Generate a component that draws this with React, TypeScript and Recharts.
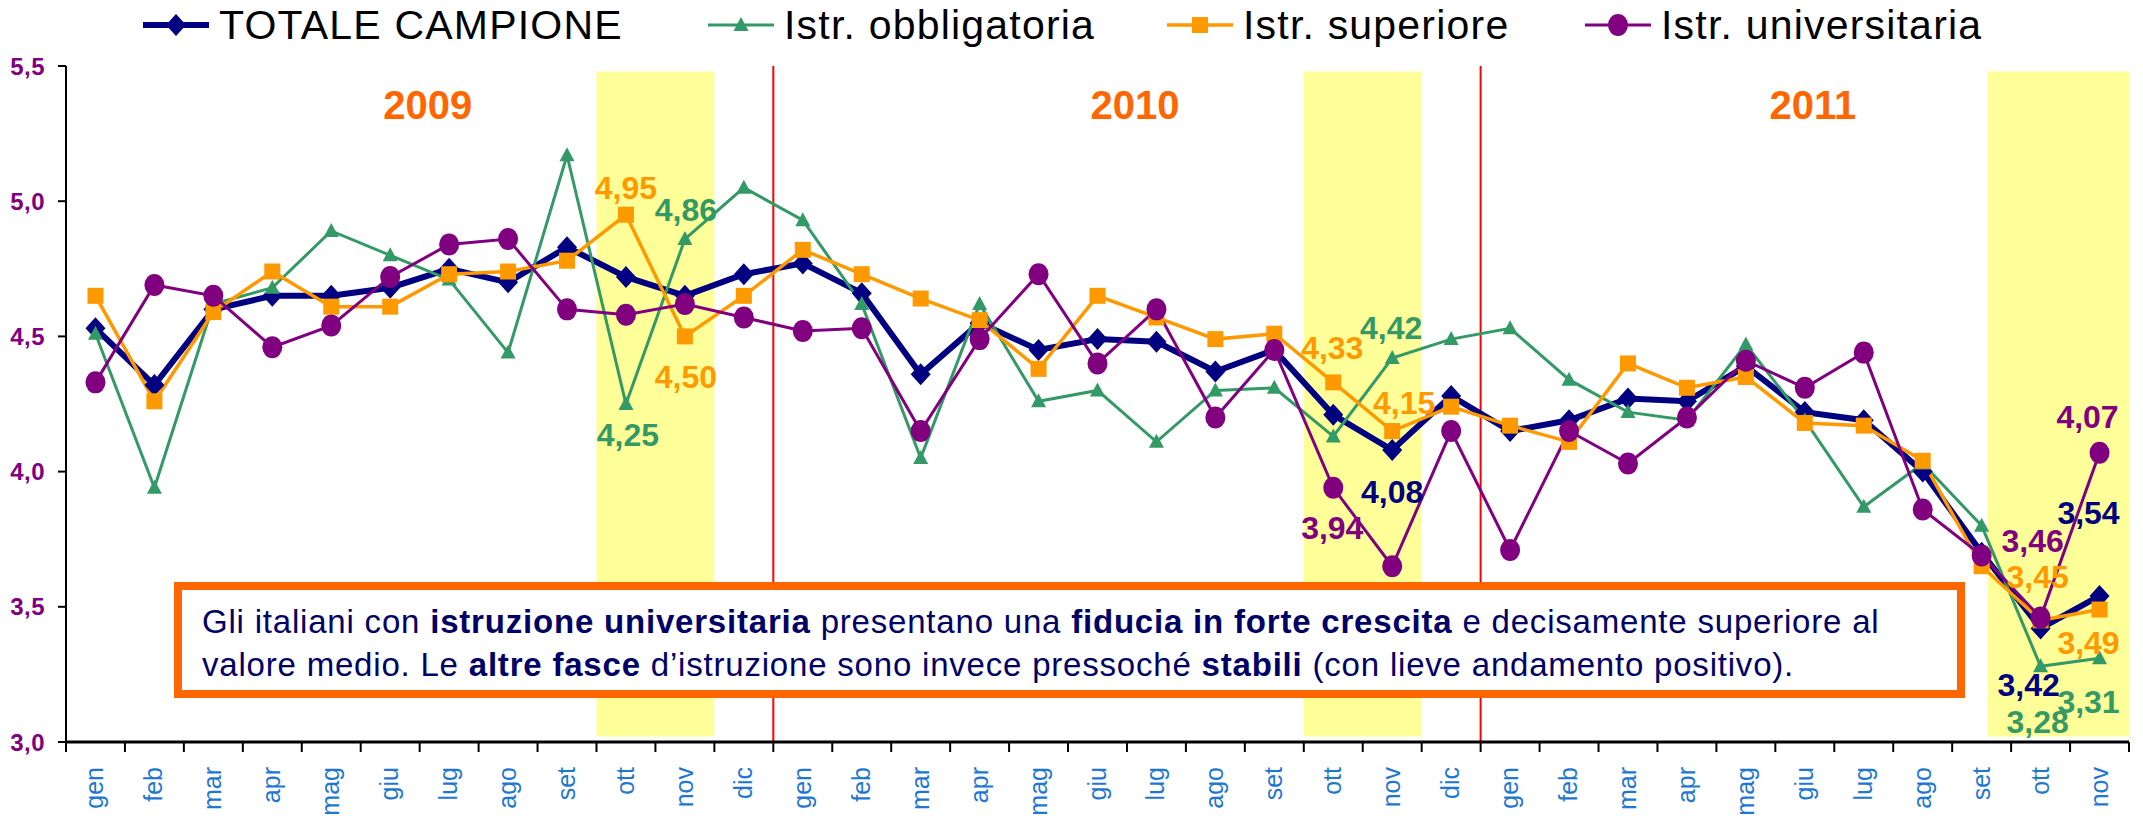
import {
  LabelList,
  Line,
  LineChart,
  ReferenceArea,
  ReferenceLine,
  XAxis,
  YAxis,
} from "recharts";

const MONTHS = ["gen", "feb", "mar", "apr", "mag", "giu", "lug", "ago", "set", "ott", "nov", "dic"];
const YEARS = ["2009", "2010", "2011"];

// one key per month, Jan 2009 .. Nov 2011
const periods = YEARS.flatMap((y) => MONTHS.map((m) => `${m}-${y}`)).slice(0, 35);

const totale = [
  4.53, 4.32, 4.6, 4.65, 4.65, 4.68, 4.75, 4.7, 4.83, 4.72, 4.65, 4.73,
  4.77, 4.66, 4.36, 4.55, 4.45, 4.49, 4.48, 4.37, 4.45, 4.21, 4.08, 4.28,
  4.15, 4.19, 4.27, 4.26, 4.39, 4.22, 4.19, 4.0, 3.7, 3.42, 3.54,
];
const obbligatoria = [
  4.51, 3.94, 4.62, 4.68, 4.89, 4.8, 4.71, 4.44, 5.17, 4.25, 4.86, 5.05,
  4.93, 4.62, 4.05, 4.62, 4.26, 4.3, 4.11, 4.3, 4.31, 4.13, 4.42, 4.49,
  4.53, 4.34, 4.22, 4.19, 4.47, 4.19, 3.87, 4.03, 3.8, 3.28, 3.31,
];
const superiore = [
  4.65, 4.26, 4.59, 4.74, 4.61, 4.61, 4.73, 4.74, 4.78, 4.95, 4.5, 4.65,
  4.82, 4.73, 4.64, 4.56, 4.38, 4.65, 4.57, 4.49, 4.51, 4.33, 4.15, 4.24,
  4.17, 4.11, 4.4, 4.31, 4.35, 4.18, 4.17, 4.04, 3.65, 3.45, 3.49,
];
const universitaria = [
  4.33, 4.69, 4.65, 4.46, 4.54, 4.72, 4.84, 4.86, 4.6, 4.58, 4.62, 4.57,
  4.52, 4.53, 4.15, 4.49, 4.73, 4.4, 4.6, 4.2, 4.45, 3.94, 3.65, 4.15,
  3.71, 4.15, 4.03, 4.2, 4.41, 4.31, 4.44, 3.86, 3.69, 3.46, 4.07,
];

const yTicks = [3, 3.5, 4, 4.5, 5, 5.5];

const data = periods.map((period, i) => ({
  period,
  totale: totale[i],
  obbligatoria: obbligatoria[i],
  superiore: superiore[i],
  universitaria: universitaria[i],
}));

const W = 2143;
const H = 819;
const M = { top: 66, right: 14, bottom: 7, left: 0 };
const Y_W = 66;
const PLOT_W = W - M.left - M.right - Y_W;
const STEP = PLOT_W / periods.length;

const NAVY = "#000080";
const GREEN = "#339966";
const ORANGE = "#FF9900";
const PURPLE = "#800080";
const FONT = "'Liberation Sans', Arial, sans-serif";

// which points carry a value label, and where it sits relative to the point
const labelPos: Record<string, Record<number, [number, number]>> = {
  totale: { 22: [0, 42], 33: [-12, 57], 34: [-11, -83] },
  obbligatoria: { 9: [2, 31], 10: [1, -29], 22: [-1, -30], 33: [-3, 56], 34: [-11, 44] },
  superiore: { 9: [0, -27], 10: [1, 41], 21: [-1, -34], 22: [12, -28], 33: [-3, -43], 34: [-11, 33] },
  universitaria: { 21: [-1, 40], 33: [-8, -77], 34: [-12, -36] },
};

const fmt = (v: number, d = 2) => v.toFixed(d).replace(".", ",");

const makeLabel = (key: string, color: string) => (p: any) => {
  const off = labelPos[key][p.index];
  if (!off) return null;
  return (
    <text
      x={p.x + off[0]}
      y={p.y + off[1]}
      textAnchor="middle"
      dominantBaseline="central"
      fill={color}
      fontSize={32}
      fontWeight="bold"
      fontFamily={FONT}
    >
      {fmt(Number(p.value))}
    </text>
  );
};

const diamond = (p: any) => (
  <path
    key={`d-${p.index}`}
    d={`M${p.cx},${p.cy - 11}L${p.cx + 10},${p.cy}L${p.cx},${p.cy + 11}L${p.cx - 10},${p.cy}Z`}
    fill={NAVY}
  />
);
const triangle = (p: any) => (
  <path
    key={`t-${p.index}`}
    d={`M${p.cx},${p.cy - 8}L${p.cx + 7.5},${p.cy + 6}L${p.cx - 7.5},${p.cy + 6}Z`}
    fill={GREEN}
  />
);
const square = (p: any) => (
  <rect key={`s-${p.index}`} x={p.cx - 8} y={p.cy - 8} width={16} height={16} fill={ORANGE} />
);
const circle = (p: any) => (
  <ellipse key={`c-${p.index}`} cx={p.cx} cy={p.cy} rx={10} ry={11} fill={PURPLE} />
);

const MonthTick = (p: any) => {
  const idx = p.index;
  const month = String(p.payload.value).split("-")[0];
  const left = p.x - STEP / 2;
  return (
    <g>
      <line x1={left} x2={left} y1={p.y} y2={p.y + 10} stroke="#000" strokeWidth={2} />
      {idx === periods.length - 1 && (
        <line x1={p.x + STEP / 2} x2={p.x + STEP / 2} y1={p.y} y2={p.y + 10} stroke="#000" strokeWidth={2} />
      )}
      <text
        transform={`translate(${p.x + 8},${p.y + 25}) rotate(-90)`}
        textAnchor="end"
        fill="#1E78D2"
        fontSize={25}
        fontFamily={FONT}
      >
        {month}
      </text>
    </g>
  );
};

const yearLabel = (text: string) => (p: any) => {
  const vb = p.viewBox;
  return (
    <text
      x={vb.x + vb.width / 2 + 8}
      y={vb.y + 39}
      textAnchor="middle"
      dominantBaseline="central"
      fill="#FF6600"
      fontSize={40}
      fontWeight="bold"
      fontFamily={FONT}
    >
      {text}
    </text>
  );
};

const series = [
  { key: "totale", name: "TOTALE CAMPIONE", color: NAVY, width: 6, dot: diamond },
  { key: "obbligatoria", name: "Istr. obbligatoria", color: GREEN, width: 3, dot: triangle },
  { key: "superiore", name: "Istr. superiore", color: ORANGE, width: 3.5, dot: square },
  { key: "universitaria", name: "Istr. universitaria", color: PURPLE, width: 3, dot: circle },
];

// left edge of each legend entry's icon
const legendLeft = [143, 708, 1167, 1585];

const LegendIcon = ({ k }: { k: string }) => {
  const s = series.find((x) => x.key === k)!;
  return (
    <svg width={66} height={30}>
      <line x1={0} x2={66} y1={15} y2={15} stroke={s.color} strokeWidth={s.width} />
      {s.dot({ cx: 33, cy: 15, index: 0 })}
    </svg>
  );
};

export default function App() {
  return (
    <div style={{ position: "relative", width: W, height: H, background: "#fff", fontFamily: FONT }}>
      <style>{`body{margin:0;overflow:hidden}`}</style>
      <LineChart width={W} height={H} data={data} margin={M}>
        <ReferenceArea x1="ott-2009" x2="nov-2009" y1={3.02} y2={5.48} fill="#FFFF99" fillOpacity={1} stroke="none" />
        <ReferenceArea x1="ott-2010" x2="nov-2010" y1={3.02} y2={5.48} fill="#FFFF99" fillOpacity={1} stroke="none" />
        <ReferenceArea
          x1="set-2011"
          x2="nov-2011"
          y1={3.02}
          y2={5.48}
          fill="#FFFF99"
          fillOpacity={1}
          stroke="none"
          shape={(p: any) => (
            <rect x={p.x + STEP * 0.6} y={p.y} width={p.width - STEP * 0.6} height={p.height} fill="#FFFF99" />
          )}
        />
        {YEARS.map((y) => (
          <ReferenceArea
            key={y}
            x1={`gen-${y}`}
            x2={y === "2011" ? "nov-2011" : `dic-${y}`}
            fillOpacity={0}
            stroke="none"
            label={{ content: yearLabel(y) }}
          />
        ))}
        <ReferenceLine x="gen-2010" position="start" stroke="#FF0000" strokeWidth={2} />
        <ReferenceLine x="gen-2011" position="start" stroke="#FF0000" strokeWidth={2} />
        <XAxis
          dataKey="period"
          scale="band"
          interval={0}
          height={70}
          tickLine={false}
          tickSize={0}
          tickMargin={0}
          axisLine={{ stroke: "#000", strokeWidth: 3 }}
          tick={<MonthTick />}
        />
        <YAxis
          width={Y_W}
          domain={[3, 5.5]}
          ticks={yTicks}
          tickFormatter={(v: number) => fmt(v, 1)}
          axisLine={{ stroke: "#000", strokeWidth: 2 }}
          tickLine={{ stroke: "#000", strokeWidth: 2 }}
          tickSize={8}
          tickMargin={13}
          tick={{ fill: PURPLE, fontSize: 24, fontWeight: "bold", fontFamily: FONT, letterSpacing: 0.5 }}
        />
        {series.map((s) => (
          <Line
            key={s.key}
            dataKey={s.key}
            name={s.name}
            stroke={s.color}
            strokeWidth={s.width}
            dot={s.dot}
            activeDot={false}
            isAnimationActive={false}
          >
            <LabelList dataKey={s.key} content={makeLabel(s.key, s.color)} />
          </Line>
        ))}
      </LineChart>

      {series.map((s, i) => (
        <div
          key={s.key}
          style={{
            position: "absolute",
            top: 0,
            left: legendLeft[i],
            height: 50,
            display: "flex",
            alignItems: "center",
            fontSize: 41,
            letterSpacing: 1.2,
            color: "#000",
            whiteSpace: "nowrap",
          }}
        >
          <LegendIcon k={s.key} />
          <span style={{ marginLeft: 10 }}>{s.name}</span>
        </div>
      ))}

      <div
        style={{
          position: "absolute",
          left: 174,
          top: 582,
          width: 1791,
          height: 116,
          boxSizing: "border-box",
          border: "8px solid #FF6600",
          background: "#fff",
          padding: "10px 0 0 20px",
          fontSize: 33,
          letterSpacing: 0.8,
          lineHeight: "43px",
          color: "#000066",
          whiteSpace: "nowrap",
        }}
      >
        Gli italiani con <b>istruzione universitaria</b> presentano una <b>fiducia in forte crescita</b> e decisamente
        superiore al
        <br />
        valore medio. Le <b>altre fasce</b> d’istruzione sono invece pressoché <b>stabili</b> (con lieve andamento
        positivo).
      </div>
    </div>
  );
}
